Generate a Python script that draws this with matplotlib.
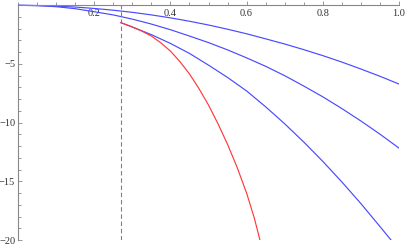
import numpy as np
import matplotlib
matplotlib.use("Agg")
import matplotlib.pyplot as plt
from matplotlib.ticker import MultipleLocator, FixedLocator

# values
x_full = [0.0, 0.05, 0.1, 0.15, 0.2, 0.25, 0.3, 0.35, 0.4, 0.45, 0.5,
          0.55, 0.6, 0.65, 0.7, 0.75, 0.8, 0.85, 0.9, 0.95, 1.0]
y_blue1 = [0.0, -0.02, -0.07, -0.15, -0.27, -0.42, -0.6, -0.82, -1.07, -1.36, -1.68,
           -2.04, -2.43, -2.86, -3.3, -3.78, -4.29, -4.84, -5.43, -6.05, -6.71]
y_blue2 = [0.0, -0.03, -0.12, -0.29, -0.55, -0.82, -1.18, -1.6, -2.08, -2.62, -3.18,
           -3.8, -4.48, -5.2, -6.0, -6.88, -7.8, -8.8, -9.86, -10.98, -12.17]

x_blue3 = [0.27, 0.3, 0.35, 0.4, 0.45, 0.5, 0.55, 0.6, 0.65, 0.7, 0.75, 0.8,
           0.85, 0.9, 0.95, 0.979]
y_blue3 = [-1.48, -1.85, -2.5, -3.25, -4.1, -5.1, -6.15, -7.3, -8.65, -10.1, -11.65,
           -13.3, -15.05, -16.9, -18.85, -20.0]

x_red = [0.27, 0.3, 0.325, 0.35, 0.375, 0.4, 0.425, 0.45, 0.475, 0.5, 0.525,
         0.55, 0.575, 0.6, 0.62, 0.635]
y_red = [-1.48, -1.85, -2.2, -2.62, -3.2, -3.9, -4.8, -5.85, -7.1, -8.5, -10.1,
         -11.85, -13.8, -16.0, -18.1, -20.0]

x_cut = 0.27

x_major = [0.2, 0.4, 0.6, 0.8, 1.0]
x_labels = ["0.2", "0.4", "0.6", "0.8", "1.0"]
y_major = [-5, -10, -15, -20]
y_labels = ["\u22125", "\u221210", "\u221215", "\u221220"]

plt.rcParams["font.family"] = ["Liberation Serif", "DejaVu Serif"]

fig = plt.figure(figsize=(4.05, 2.46), dpi=100)
ax = fig.add_axes([18 / 405, 6 / 246, 381 / 405, 240 / 246])

blue = "#4a4aff"
red = "#ff3a3a"
ax.plot(x_full, y_blue1, color=blue, lw=0.85)
ax.plot(x_full, y_blue2, color=blue, lw=0.85)
ax.plot(x_blue3, y_blue3, color=blue, lw=0.85)
ax.plot(x_red, y_red, color=red, lw=0.85)
ax.vlines(x_cut, -20, 0, colors="#808080", linestyles=(0, (4, 2.5)), lw=0.8)

ax.set_xlim(0, 1.0)
ax.set_ylim(-20, 0.45)

for s in ["top", "right"]:
    ax.spines[s].set_visible(False)
ax.spines["bottom"].set_position(("data", 0))
ax.spines["left"].set_position(("data", 0))
ax.spines["bottom"].set_bounds(0, 1.0)
ax.spines["left"].set_bounds(-20, 0)
for s in ["bottom", "left"]:
    ax.spines[s].set_color("#888888")
    ax.spines[s].set_linewidth(0.8)

ax.xaxis.set_major_locator(FixedLocator(x_major))
ax.set_xticklabels(x_labels)
ax.xaxis.set_minor_locator(MultipleLocator(0.05))
ax.yaxis.set_major_locator(FixedLocator(y_major))
ax.set_yticklabels(y_labels)
ax.yaxis.set_minor_locator(MultipleLocator(1))

ax.tick_params(which="both", direction="in", color="#888888", width=0.6,
               labelsize=7.5, labelcolor="#333333")
ax.tick_params(which="major", length=3)
ax.tick_params(which="minor", length=2)
ax.tick_params(axis="x", pad=3)
ax.tick_params(axis="y", pad=2)

fig.savefig("out.png", dpi=100)
